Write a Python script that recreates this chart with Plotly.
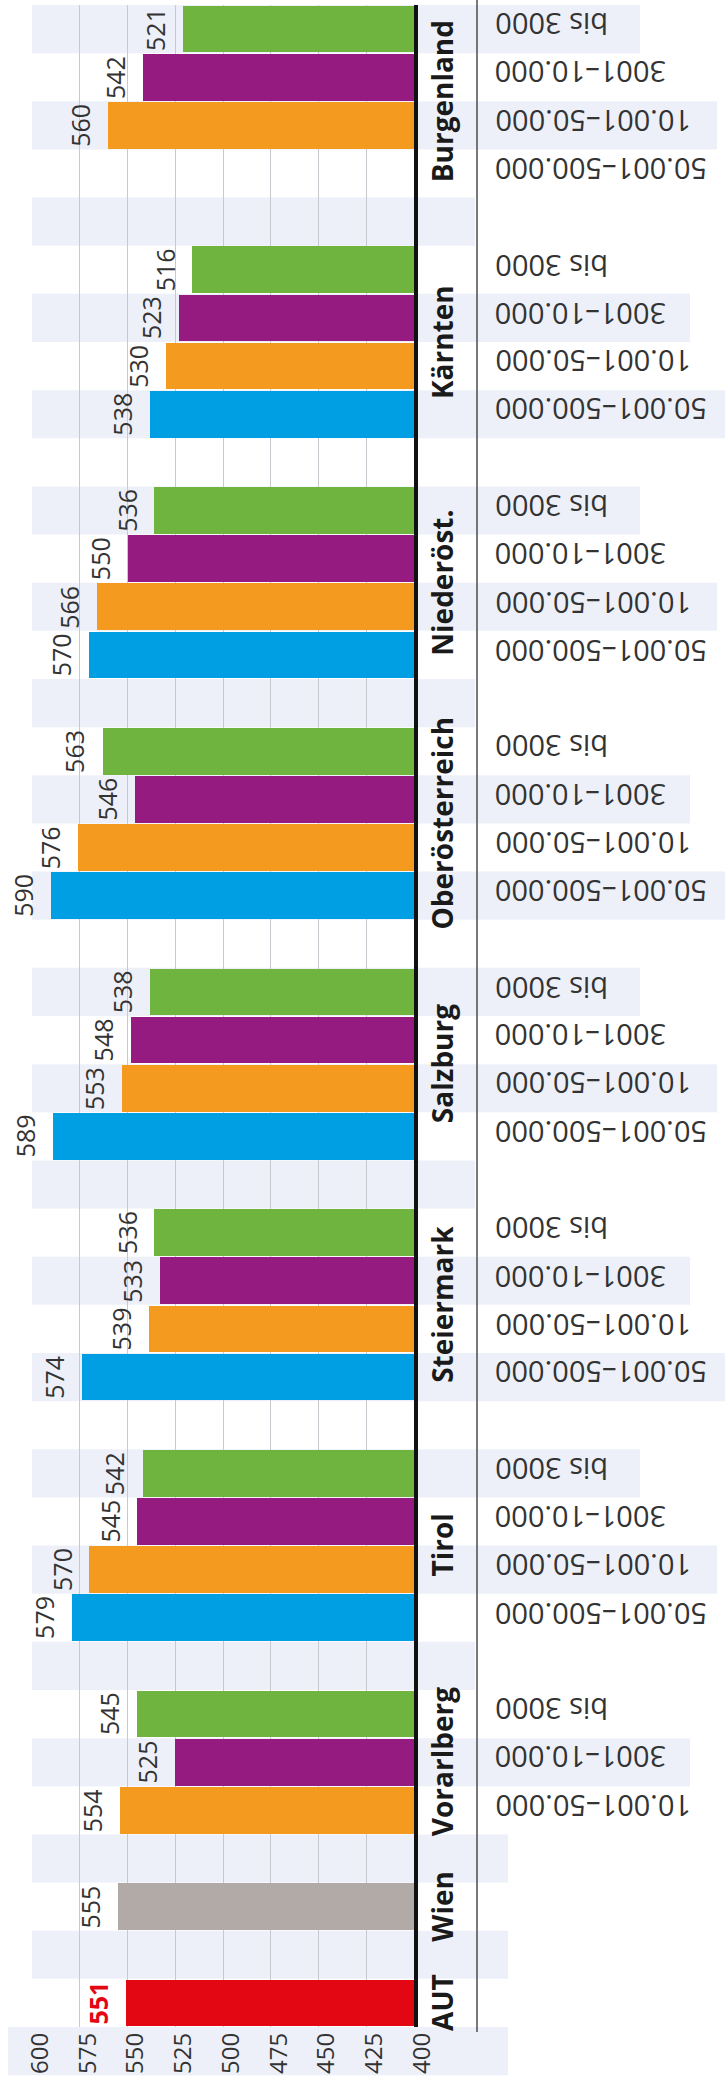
import plotly.graph_objects as go

# ---------------- data (bottom to top in the picture) ----------------
regions = ["AUT", "Wien", "Vorarlberg", "Tirol", "Steiermark", "Salzburg",
           "Oberösterreich", "Niederöst.", "Kärnten", "Burgenland"]
size_labels = ["50.001–500.000", "10.001–50.000", "3001–10.000", "bis 3000"]
val_50001_500000 = [None, None, None, 579, 574, 589, 590, 570, 538, None]
val_10001_50000 = [None, None, 554, 570, 539, 553, 576, 566, 530, 560]
val_3001_10000 = [None, None, 525, 545, 533, 548, 546, 550, 523, 542]
val_bis_3000 = [None, None, 545, 542, 536, 538, 563, 536, 516, 521]
val_total = [551, 555, None, None, None, None, None, None, None, None]
# number of size classes listed for each region (0 = single total bar)
sizes_listed = [0, 0, 3, 4, 4, 4, 4, 4, 4, 4]
x_ticks = [400, 425, 450, 475, 500, 525, 550, 575, 600]

# ---------------- styles ----------------
series = [val_50001_500000, val_10001_50000, val_3001_10000, val_bis_3000]
size_colors = ["#009fe3", "#f39a1f", "#951b81", "#6fb43f"]
total_colors = ["#e30613", "#b2aaa7"]
band_color = "#edf0f8"
txt_color = "#333333"
W, H = 725, 2085
ML, MR, MT, MB = 32, 311, 5, 58
PW, PH = W - ML - MR, H - MT - MB


def px_x(px):
    return (px - ML) / PW


def px_y(py):
    return (H - MB - py) / PH


# ---------------- row layout (top to bottom) ----------------
rows = []
group_center = {}
r = 0
for gi in range(len(regions) - 1, -1, -1):
    start = r
    n = sizes_listed[gi]
    if n == 0:
        rows.append(dict(row=r, region=gi, size=None))
        r += 1
    else:
        for si in range(3, 3 - n, -1):
            rows.append(dict(row=r, region=gi, size=si))
            r += 1
    group_center[gi] = (start + r - 1) / 2
    r += 1
n_rows = r - 1

fig = go.Figure()
annotations = []

# bars per size class
for si in range(4):
    xs, ys = [], []
    for rw in rows:
        if rw["size"] == si and series[si][rw["region"]] is not None:
            xs.append(series[si][rw["region"]])
            ys.append(rw["row"])
    fig.add_trace(go.Bar(x=xs, y=ys, orientation="h", width=0.97,
                         marker=dict(color=size_colors[si], line=dict(width=0)),
                         name=size_labels[si], showlegend=False))
    for xv, yv in zip(xs, ys):
        annotations.append(dict(x=xv, y=yv, xref="x", yref="y", text=str(xv),
                                textangle=-90, xanchor="right", yanchor="middle",
                                xshift=-9, showarrow=False,
                                font=dict(family="Liberation Sans Narrow, Open Sans",
                                          size=25, color=txt_color)))

# total bars (AUT, Wien)
xs, ys, cs = [], [], []
for rw in rows:
    if rw["size"] is None and val_total[rw["region"]] is not None:
        xs.append(val_total[rw["region"]])
        ys.append(rw["row"])
        cs.append(total_colors[rw["region"]])
fig.add_trace(go.Bar(x=xs, y=ys, orientation="h", width=0.97,
                     marker=dict(color=cs, line=dict(width=0)), showlegend=False))
for xv, yv, c in zip(xs, ys, cs):
    is_aut = c == total_colors[0]
    annotations.append(dict(x=xv, y=yv, xref="x", yref="y",
                            text=f"<b>{xv}</b>" if is_aut else str(xv),
                            textangle=-90, xanchor="right", yanchor="middle",
                            xshift=-9, showarrow=False,
                            font=dict(family="Liberation Sans Narrow, Open Sans",
                                      size=25, color=c if is_aut else txt_color)))

# region labels
for gi, reg in enumerate(regions):
    annotations.append(dict(x=px_x(442), y=group_center[gi], xref="paper", yref="y",
                            text=f"<b>{reg}</b>", textangle=-90, showarrow=False,
                            xanchor="center", yanchor="middle",
                            font=dict(family="Open Sans", size=28, color="#1a1a1a")))

# size-class labels (upside down)
last_label_row = 0
for rw in rows:
    if rw["size"] is not None:
        last_label_row = max(last_label_row, rw["row"])
        annotations.append(dict(x=px_x(493), y=rw["row"], xref="paper", yref="y",
                                text=size_labels[rw["size"]], textangle=180,
                                showarrow=False, xanchor="left", yanchor="middle",
                                yshift=4,
                                font=dict(family="Open Sans", size=29, color=txt_color)))

# background bands
band_end = {0: 726, 1: 717, 2: 690, 3: 640}
row_size = {rw["row"]: rw["size"] for rw in rows}
shapes = []
for rr in range(0, n_rows + 1, 2):
    x0 = ML
    if rr == n_rows:
        x0, x1 = 8, 508
    elif row_size.get(rr) is not None:
        x1 = band_end[row_size[rr]]
    elif rr > last_label_row:
        x1 = 508
    else:
        x1 = 475
    shapes.append(dict(type="rect", xref="paper", yref="paper",
                       x0=px_x(x0), x1=px_x(x1),
                       y0=1 - rr / n_rows, y1=1 - (rr + 1) / n_rows,
                       fillcolor=band_color, line=dict(width=0), layer="below"))
# separator line
shapes.append(dict(type="line", xref="paper", yref="paper",
                   x0=px_x(477), x1=px_x(477), y0=px_y(0), y1=px_y(2032),
                   line=dict(color="#4d4d4d", width=1.5)))

fig.update_layout(
    width=W, height=H,
    margin=dict(l=ML, r=MR, t=MT, b=MB, pad=0),
    paper_bgcolor="white", plot_bgcolor="rgba(0,0,0,0)",
    barmode="overlay", bargap=0,
    shapes=shapes, annotations=annotations,
    xaxis=dict(range=[600, 400], tickvals=x_ticks, tickangle=-90,
               showgrid=True, gridcolor="#c8c9ce", gridwidth=1,
               zeroline=False, showline=False, ticks="",
               ticklabelshift=-8, ticklabelstandoff=0,
               tickfont=dict(family="Liberation Sans Narrow, Open Sans", size=24,
                             color=txt_color)),
    yaxis=dict(range=[n_rows - 0.5, -0.5], showticklabels=False, showgrid=False,
               zeroline=False, showline=True, linecolor="#111111", linewidth=4,
               side="right", ticks=""),
    font=dict(family="Open Sans"),
)

fig.write_html("out.html", config={"displayModeBar": False},
               post_script="document.body.style.margin='0';")
